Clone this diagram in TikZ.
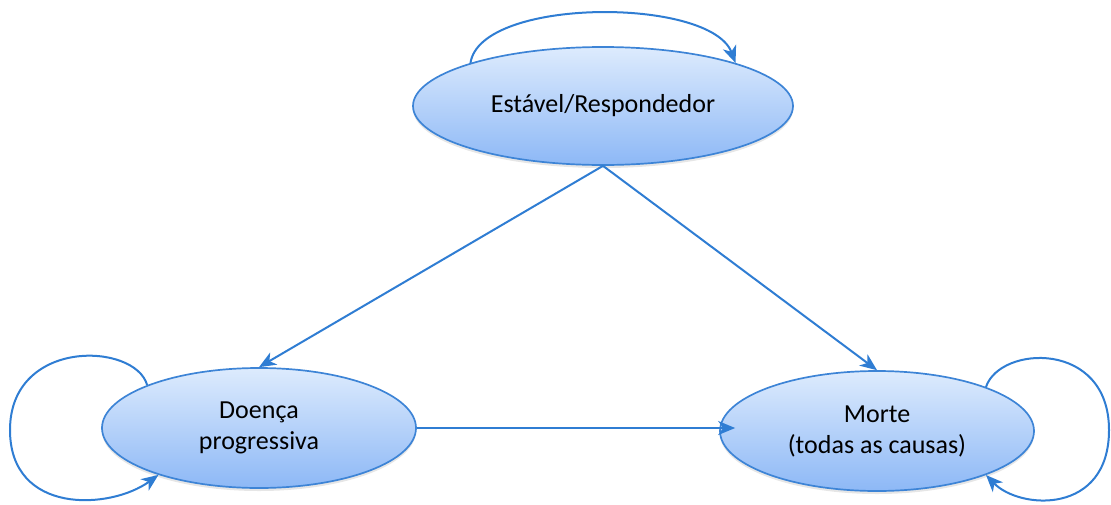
\documentclass[tikz,border=0pt]{standalone}
\usepackage{fontspec}
\setmainfont{Carlito}
\usetikzlibrary{shapes.geometric,arrows.meta,calc,shadows}
\definecolor{edgeblue}{HTML}{2F7DD3}
\definecolor{filltop}{HTML}{DDEBFD}
\definecolor{fillbot}{HTML}{8DB8F6}
\definecolor{rimblue}{HTML}{3D84D6}
\tikzset{
  state/.style={ellipse, draw=rimblue, line width=1.7pt, top color=filltop, bottom color=fillbot,
    inner sep=0pt, align=center, font=\fontsize{26}{31}\selectfont,
    drop shadow={shadow xshift=0pt, shadow yshift=-3pt, opacity=0.2, fill=gray}},
  trans/.style={draw=edgeblue, line width=2pt, -{Stealth[length=17pt,width=14pt,inset=5pt]}}
}
\begin{document}
\begin{tikzpicture}[x=1pt,y=-1pt]
\useasboundingbox (0,0) rectangle (1111,504);
\node[state, minimum width=380pt, minimum height=118pt] (top) at (603,106) {Estável/Respondedor};
\node[state, minimum width=314pt, minimum height=120pt] (left) at (259,428) {Doença\\progressiva};
\node[state, minimum width=314pt, minimum height=120pt] (right) at (877,431) {Morte\\(todas as causas)};
% transitions
\draw[trans] (top.south) -- (left.north);
\draw[trans] (top.south) -- (right.north);
\draw[trans, shorten >=-16pt] (left.east) -- (left.east -| right.west);
% self loops
\draw[trans] (top.162) .. controls +(10,-66) and +(-25,-66) .. (top.18);
\draw[trans] (left.159) .. controls (135,342) and (10,338) .. (10,430)
   .. controls (10,515) and (110,510) .. (left.-155);
\draw[trans] (right.22) .. controls (1000,345) and (1109,340) .. (1109,430)
   .. controls (1109,515) and (1020,510) .. (right.-22);
\end{tikzpicture}
\end{document}
